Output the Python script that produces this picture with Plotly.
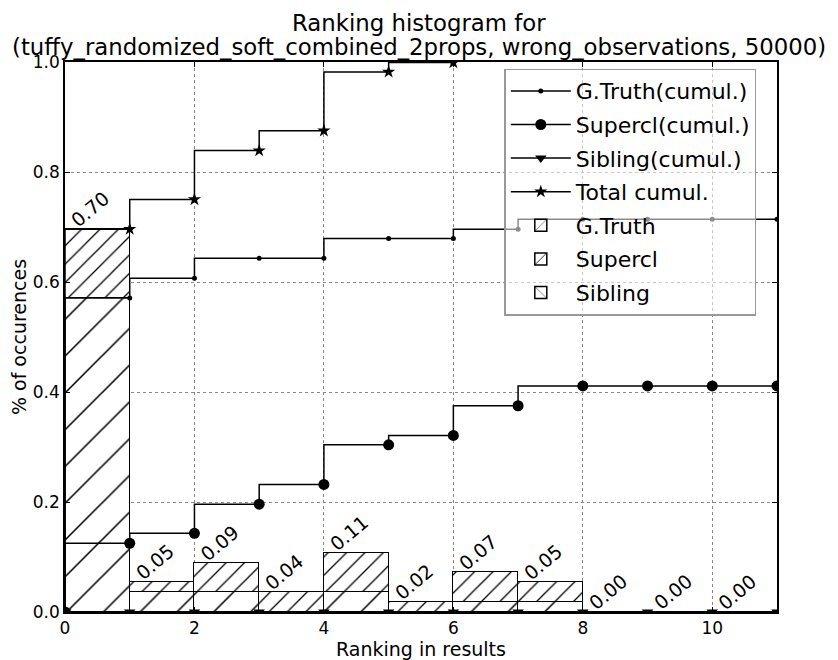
import plotly.graph_objects as go

# ---- data ----
bin_left = [0, 1, 2, 3, 4, 5, 6, 7, 8, 9, 10]
gt_bins = [0.571, 0.036, 0.036, 0.0, 0.036, 0.0, 0.018, 0.018, 0.0, 0.0, 0.0]
sc_bins = [0.125, 0.018, 0.054, 0.036, 0.071, 0.018, 0.054, 0.036, 0.0, 0.0, 0.0]
sib_bins = [0.0, 0.0, 0.0, 0.0, 0.0, 0.0, 0.0, 0.0, 0.0, 0.0, 0.0]
bar_labels = ["0.70", "0.05", "0.09", "0.04", "0.11", "0.02", "0.07", "0.05", "0.00", "0.00", "0.00"]

cum_x = [0, 1, 2, 3, 4, 5, 6, 7, 8, 9, 10, 11]
gt_cum = [0.0, 0.571, 0.607, 0.643, 0.643, 0.679, 0.679, 0.696, 0.714, 0.714, 0.714, 0.714]
sc_cum = [0.0, 0.125, 0.143, 0.196, 0.232, 0.304, 0.321, 0.375, 0.411, 0.411, 0.411, 0.411]
sib_cum = [0.0, 0.0, 0.0, 0.0, 0.0, 0.0, 0.0, 0.0, 0.0, 0.0, 0.0, 0.0]
total_x = [0, 1, 2, 3, 4, 5, 6, 7]
total_cum = [0.0, 0.696, 0.750, 0.839, 0.875, 0.982, 0.999, 1.07]

title_lines = ["Ranking histogram for",
               "(tuffy_randomized_soft_combined_2props, wrong_observations, 50000)"]

FONT = "DejaVu Sans"
fig = go.Figure()

def add_line(name, xs, ys, symbol, size, rank):
    fig.add_trace(go.Scatter(
        x=xs, y=ys, name=name, mode="lines+markers", legendrank=rank, legendgroup=name,
        line=dict(color="black", width=1.5, shape="vh"),
        marker=dict(symbol=symbol, size=size, color="black"),
        cliponaxis=True, hoverinfo="skip",
    ))

add_line("G.Truth(cumul.)", cum_x, gt_cum, "circle", 5, 1)
add_line("Supercl(cumul.)", cum_x, sc_cum, "circle", 11, 2)
add_line("Sibling(cumul.)", cum_x, sib_cum, "triangle-down", 10, 3)
add_line("Total cumul.", total_x, total_cum, "star", 10, 4)

bar_centers = [b + 0.5 for b in bin_left]

def add_bar(name, vals, shape, size, solidity, rank):
    fig.add_trace(go.Bar(
        x=bar_centers, y=vals, width=1.0, name=name, legendrank=rank, legendgroup=name,
        marker=dict(color="white",
                    line=dict(color="black", width=1.5),
                    pattern=dict(shape=shape, size=size, solidity=solidity,
                                 fgcolor="black", fgopacity=1, bgcolor="white",
                                 fillmode="overlay")),
        hoverinfo="skip",
    ))

add_bar("G.Truth", gt_bins, "/", 26, 0.06, 5)
add_bar("Supercl", sc_bins, "/", 13, 0.1, 6)
add_bar("Sibling", sib_bins, "\\", 26, 0.06, 7)

# bar value labels
totals = [g + s + t for g, s, t in zip(gt_bins, sc_bins, sib_bins)]
for b, tot, lab in zip(bin_left, totals, bar_labels):
    fig.add_annotation(x=b, y=tot, text=lab, showarrow=False, textangle=-40,
                       xanchor="center", yanchor="middle", xshift=25, yshift=20,
                       font=dict(family=FONT, size=19, color="black"))

# two-line title
for line_txt, shift in zip(title_lines, [39.5, 15]):
    fig.add_annotation(x=0.5, y=1, xref="paper", yref="paper", text=line_txt,
                       showarrow=False, xanchor="center", yanchor="middle",
                       xshift=-2, yshift=shift,
                       font=dict(family=FONT, size=22.8, color="black"))

fig.update_layout(
    template="none",
    width=830, height=652,
    margin=dict(l=57, r=61, t=54, b=48, autoexpand=False),
    paper_bgcolor="white", plot_bgcolor="white",
    barmode="stack", bargap=0,
    font=dict(family=FONT, color="black"),
    legend=dict(x=0.617, y=0.988, xanchor="left", yanchor="top",
                bgcolor="rgba(255,255,255,0.55)", bordercolor="#999999", borderwidth=1.5,
                font=dict(family=FONT, size=22, color="black"),
                traceorder="grouped", tracegroupgap=2, itemwidth=60),
    showlegend=True,
)

axis_common = dict(ticks="inside", ticklen=5, tickcolor="black", showline=True,
                   linecolor="black", linewidth=1.5, mirror="allticks", showgrid=True,
                   gridcolor="#888888", griddash="dot", gridwidth=1, zeroline=False,
                   automargin=False, tickfont=dict(family=FONT, size=17, color="black"))

fig.update_xaxes(range=[0, 11], tickvals=[0, 2, 4, 6, 8, 10],
                 title=dict(text="Ranking in results", font=dict(family=FONT, size=19), standoff=4),
                 **axis_common)
fig.update_yaxes(range=[0, 1.0], tickvals=[0, 0.2, 0.4, 0.6, 0.8, 1.0], tickformat=".1f",
                 title=dict(text="% of occurences", font=dict(family=FONT, size=19), standoff=6),
                 **axis_common)

fig.write_html("out.html")
